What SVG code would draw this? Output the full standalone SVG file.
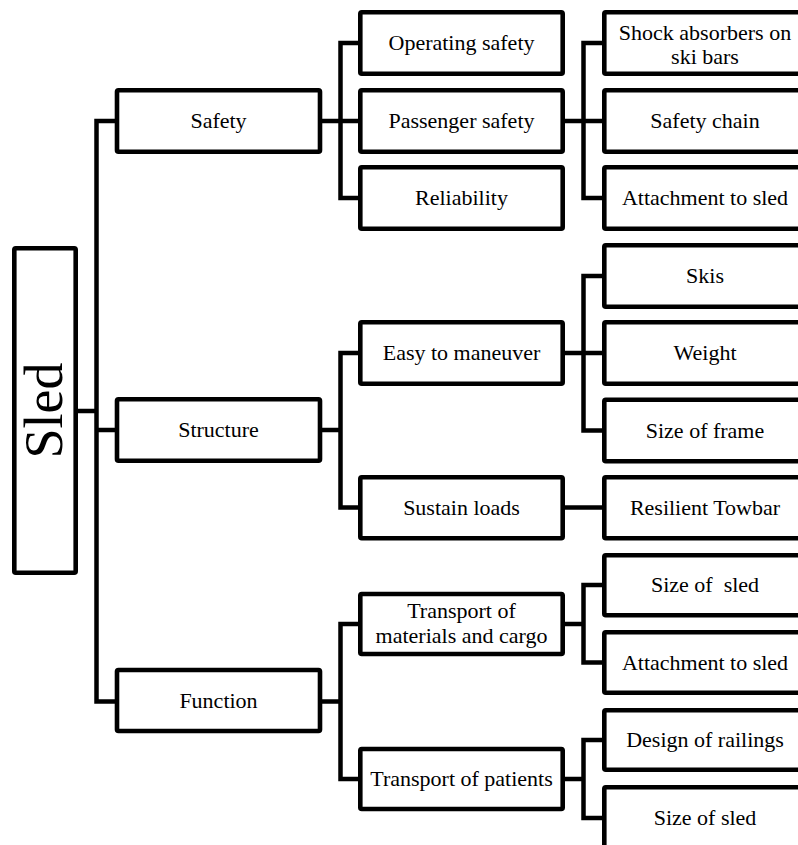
<svg xmlns="http://www.w3.org/2000/svg" width="798" height="845" viewBox="0 0 798 845">
<style>
.box{fill:#fff;stroke:#000;stroke-width:4.6;}
.ln{fill:none;stroke:#000;stroke-width:4.5;stroke-linejoin:miter;stroke-linecap:square;}
text{font-family:"Liberation Serif","Times New Roman",serif;font-size:22px;fill:#000;text-anchor:middle;}
.big{font-size:54px;}
</style>
<rect width="798" height="845" fill="#fff"/>
<g id="connectors">
<path class="ln" d="M76 411H96.5M117 121H96.5V701.5H117M96.5 430H117"/>
<path class="ln" d="M320 121H340.5M358 43H340.5V198H358M340.5 121H358"/>
<path class="ln" d="M563 121H583.5M602 43H583.5V198H602M583.5 121H602"/>
<path class="ln" d="M320 430H340.5M358 353H340.5V507.5H358"/>
<path class="ln" d="M563 353H583.5M602 276H583.5V430.5H602M583.5 353H602"/>
<path class="ln" d="M563 507.5H602"/>
<path class="ln" d="M320 701.5H340.5M358 624H340.5V779H358"/>
<path class="ln" d="M563 624H583.5M602 585H583.5V662.5H602"/>
<path class="ln" d="M563 779H583.5M602 740H583.5V818H602"/>
</g>
<g id="sled"><rect class="box" x="14.3" y="248.3" width="61.4" height="324.4" rx="1.5"/><text class="big" transform="translate(62,410.5) rotate(-90)">Sled</text></g>
<g id="safety"><rect class="box" x="117" y="90.3" width="203" height="61.4" rx="1.5"/><text x="218.5" y="128">Safety</text></g>
<g id="structure"><rect class="box" x="117" y="399.3" width="203" height="61.4" rx="1.5"/><text x="218.5" y="437">Structure</text></g>
<g id="function"><rect class="box" x="117" y="670" width="203" height="61" rx="1.5"/><text x="218.5" y="708">Function</text></g>
<g id="operating-safety"><rect class="box" x="360.3" y="12.3" width="202.4" height="61.4" rx="1.5"/><text x="461.5" y="50">Operating safety</text></g>
<g id="passenger-safety"><rect class="box" x="360.3" y="90.3" width="202.4" height="61.4" rx="1.5"/><text x="461.5" y="128">Passenger safety</text></g>
<g id="reliability"><rect class="box" x="360.3" y="167.3" width="202.4" height="61.4" rx="1.5"/><text x="461.5" y="205">Reliability</text></g>
<g id="easy-to-maneuver"><rect class="box" x="360.3" y="322.3" width="202.4" height="61.4" rx="1.5"/><text x="461.5" y="360">Easy to maneuver</text></g>
<g id="sustain-loads"><rect class="box" x="360.3" y="477.3" width="202.4" height="61" rx="1.5"/><text x="461.5" y="514.5">Sustain loads</text></g>
<g id="transport-materials"><rect class="box" x="360.3" y="594" width="202.4" height="60" rx="1.5"/><text x="461.5" y="618">Transport of</text><text x="461.5" y="642.5">materials and cargo</text></g>
<g id="transport-patients"><rect class="box" x="360.3" y="749" width="202.4" height="60" rx="1.5"/><text x="461.5" y="786">Transport of patients</text></g>
<g id="shock-absorbers"><rect class="box" x="604.3" y="12.3" width="203" height="61.4" rx="1.5"/><text x="705" y="39.5">Shock absorbers on</text><text x="705" y="64">ski bars</text></g>
<g id="safety-chain"><rect class="box" x="604.3" y="90.3" width="203" height="61.4" rx="1.5"/><text x="705" y="128">Safety chain</text></g>
<g id="attachment-1"><rect class="box" x="604.3" y="167.3" width="203" height="61.4" rx="1.5"/><text x="705" y="205">Attachment to sled</text></g>
<g id="skis"><rect class="box" x="604.3" y="245.3" width="203" height="61.4" rx="1.5"/><text x="705" y="283">Skis</text></g>
<g id="weight"><rect class="box" x="604.3" y="322.3" width="203" height="61.4" rx="1.5"/><text x="705" y="360">Weight</text></g>
<g id="size-of-frame"><rect class="box" x="604.3" y="399.8" width="203" height="61.4" rx="1.5"/><text x="705" y="437.5">Size of frame</text></g>
<g id="resilient-towbar"><rect class="box" x="604.3" y="477.3" width="203" height="61" rx="1.5"/><text x="705" y="514.5">Resilient Towbar</text></g>
<g id="size-of-sled-1"><rect class="box" x="604.3" y="555.3" width="203" height="60" rx="1.5"/><text x="705" y="592" xml:space="preserve">Size of  sled</text></g>
<g id="attachment-2"><rect class="box" x="604.3" y="632.3" width="203" height="60.4" rx="1.5"/><text x="705" y="669.5">Attachment to sled</text></g>
<g id="design-of-railings"><rect class="box" x="604.3" y="710.3" width="203" height="59.4" rx="1.5"/><text x="705" y="747">Design of railings</text></g>
<g id="size-of-sled-2"><rect class="box" x="604.3" y="787.3" width="203" height="61.4" rx="1.5"/><text x="705" y="825">Size of sled</text></g>
</svg>
